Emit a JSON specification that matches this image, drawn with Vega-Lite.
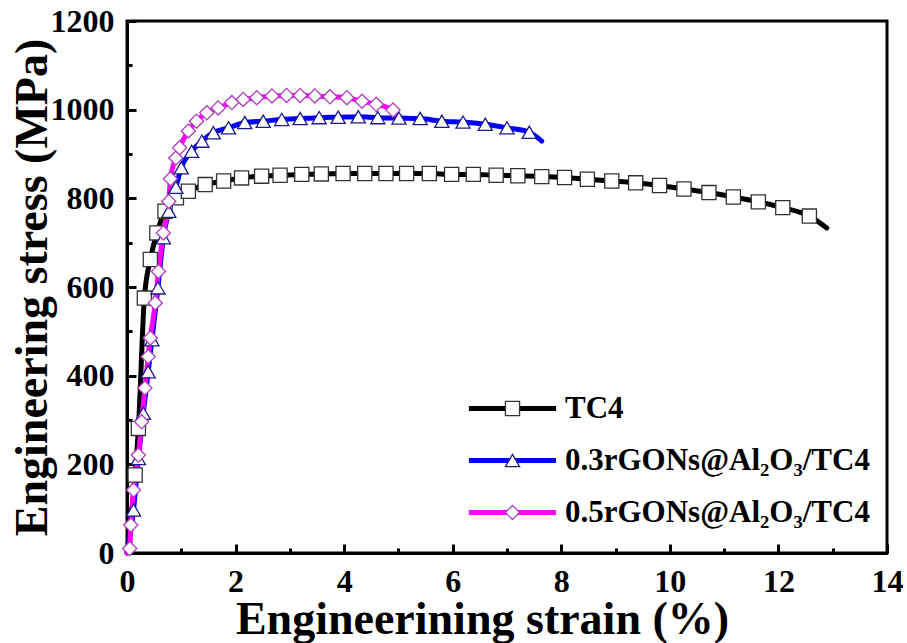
{
  "$schema": "https://vega.github.io/schema/vega-lite/v6.json",
  "width": 760,
  "height": 532,
  "autosize": {"type": "none"},
  "padding": {"left": 127, "top": 21, "right": 20, "bottom": 90},
  "background": "white",
  "config": {
    "view": {"stroke": "black", "strokeWidth": 3},
    "font": "Liberation Serif",
    "axis": {
      "grid": false,
      "domainColor": "black",
      "domainWidth": 3,
      "tickColor": "black",
      "tickWidth": 3,
      "labelFont": "Liberation Serif",
      "labelFontWeight": "bold",
      "labelFontSize": 32,
      "labelColor": "black",
      "titleFont": "Liberation Serif",
      "titleFontWeight": "bold",
      "titleColor": "black"
    }
  },
  "data": {
    "values": [
      {"sample": "TC4", "strain": 0, "stress": 0},
      {"sample": "TC4", "strain": 0.15, "stress": 176},
      {"sample": "TC4", "strain": 0.21, "stress": 281},
      {"sample": "TC4", "strain": 0.32, "stress": 575},
      {"sample": "TC4", "strain": 0.43, "stress": 662},
      {"sample": "TC4", "strain": 0.55, "stress": 722},
      {"sample": "TC4", "strain": 0.70, "stress": 771},
      {"sample": "TC4", "strain": 0.91, "stress": 801},
      {"sample": "TC4", "strain": 1.13, "stress": 816},
      {"sample": "TC4", "strain": 1.44, "stress": 831},
      {"sample": "TC4", "strain": 1.78, "stress": 839},
      {"sample": "TC4", "strain": 2.11, "stress": 846},
      {"sample": "TC4", "strain": 2.48, "stress": 850},
      {"sample": "TC4", "strain": 2.82, "stress": 852},
      {"sample": "TC4", "strain": 3.22, "stress": 854},
      {"sample": "TC4", "strain": 3.58, "stress": 855},
      {"sample": "TC4", "strain": 3.98, "stress": 856},
      {"sample": "TC4", "strain": 4.38, "stress": 856},
      {"sample": "TC4", "strain": 4.77, "stress": 856},
      {"sample": "TC4", "strain": 5.15, "stress": 856},
      {"sample": "TC4", "strain": 5.57, "stress": 856},
      {"sample": "TC4", "strain": 5.98, "stress": 854},
      {"sample": "TC4", "strain": 6.38, "stress": 854},
      {"sample": "TC4", "strain": 6.80, "stress": 852},
      {"sample": "TC4", "strain": 7.20, "stress": 851},
      {"sample": "TC4", "strain": 7.64, "stress": 849},
      {"sample": "TC4", "strain": 8.06, "stress": 847},
      {"sample": "TC4", "strain": 8.48, "stress": 843},
      {"sample": "TC4", "strain": 8.93, "stress": 839},
      {"sample": "TC4", "strain": 9.37, "stress": 835},
      {"sample": "TC4", "strain": 9.81, "stress": 829},
      {"sample": "TC4", "strain": 10.26, "stress": 821},
      {"sample": "TC4", "strain": 10.72, "stress": 813},
      {"sample": "TC4", "strain": 11.17, "stress": 803},
      {"sample": "TC4", "strain": 11.63, "stress": 792},
      {"sample": "TC4", "strain": 12.08, "stress": 779},
      {"sample": "TC4", "strain": 12.57, "stress": 760},
      {"sample": "TC4", "strain": 12.89, "stress": 733},

      {"sample": "0.3rGONs@Al₂O₃/TC4", "strain": 0, "stress": 0},
      {"sample": "0.3rGONs@Al₂O₃/TC4", "strain": 0.12, "stress": 97},
      {"sample": "0.3rGONs@Al₂O₃/TC4", "strain": 0.21, "stress": 213},
      {"sample": "0.3rGONs@Al₂O₃/TC4", "strain": 0.30, "stress": 315},
      {"sample": "0.3rGONs@Al₂O₃/TC4", "strain": 0.39, "stress": 409},
      {"sample": "0.3rGONs@Al₂O₃/TC4", "strain": 0.46, "stress": 481},
      {"sample": "0.3rGONs@Al₂O₃/TC4", "strain": 0.57, "stress": 598},
      {"sample": "0.3rGONs@Al₂O₃/TC4", "strain": 0.67, "stress": 711},
      {"sample": "0.3rGONs@Al₂O₃/TC4", "strain": 0.77, "stress": 771},
      {"sample": "0.3rGONs@Al₂O₃/TC4", "strain": 0.90, "stress": 825},
      {"sample": "0.3rGONs@Al₂O₃/TC4", "strain": 1.00, "stress": 869},
      {"sample": "0.3rGONs@Al₂O₃/TC4", "strain": 1.19, "stress": 906},
      {"sample": "0.3rGONs@Al₂O₃/TC4", "strain": 1.38, "stress": 929},
      {"sample": "0.3rGONs@Al₂O₃/TC4", "strain": 1.59, "stress": 948},
      {"sample": "0.3rGONs@Al₂O₃/TC4", "strain": 1.87, "stress": 959},
      {"sample": "0.3rGONs@Al₂O₃/TC4", "strain": 2.17, "stress": 971},
      {"sample": "0.3rGONs@Al₂O₃/TC4", "strain": 2.51, "stress": 974},
      {"sample": "0.3rGONs@Al₂O₃/TC4", "strain": 2.85, "stress": 978},
      {"sample": "0.3rGONs@Al₂O₃/TC4", "strain": 3.19, "stress": 980},
      {"sample": "0.3rGONs@Al₂O₃/TC4", "strain": 3.54, "stress": 982},
      {"sample": "0.3rGONs@Al₂O₃/TC4", "strain": 3.89, "stress": 983},
      {"sample": "0.3rGONs@Al₂O₃/TC4", "strain": 4.26, "stress": 984},
      {"sample": "0.3rGONs@Al₂O₃/TC4", "strain": 4.62, "stress": 982},
      {"sample": "0.3rGONs@Al₂O₃/TC4", "strain": 5.01, "stress": 981},
      {"sample": "0.3rGONs@Al₂O₃/TC4", "strain": 5.40, "stress": 980},
      {"sample": "0.3rGONs@Al₂O₃/TC4", "strain": 5.80, "stress": 974},
      {"sample": "0.3rGONs@Al₂O₃/TC4", "strain": 6.19, "stress": 972},
      {"sample": "0.3rGONs@Al₂O₃/TC4", "strain": 6.60, "stress": 967},
      {"sample": "0.3rGONs@Al₂O₃/TC4", "strain": 7.00, "stress": 959},
      {"sample": "0.3rGONs@Al₂O₃/TC4", "strain": 7.41, "stress": 949},
      {"sample": "0.3rGONs@Al₂O₃/TC4", "strain": 7.64, "stress": 929},

      {"sample": "0.5rGONs@Al₂O₃/TC4", "strain": 0, "stress": 0},
      {"sample": "0.5rGONs@Al₂O₃/TC4", "strain": 0.05, "stress": 10},
      {"sample": "0.5rGONs@Al₂O₃/TC4", "strain": 0.07, "stress": 63},
      {"sample": "0.5rGONs@Al₂O₃/TC4", "strain": 0.12, "stress": 142},
      {"sample": "0.5rGONs@Al₂O₃/TC4", "strain": 0.21, "stress": 221},
      {"sample": "0.5rGONs@Al₂O₃/TC4", "strain": 0.27, "stress": 296},
      {"sample": "0.5rGONs@Al₂O₃/TC4", "strain": 0.33, "stress": 372},
      {"sample": "0.5rGONs@Al₂O₃/TC4", "strain": 0.39, "stress": 443},
      {"sample": "0.5rGONs@Al₂O₃/TC4", "strain": 0.43, "stress": 485},
      {"sample": "0.5rGONs@Al₂O₃/TC4", "strain": 0.52, "stress": 564},
      {"sample": "0.5rGONs@Al₂O₃/TC4", "strain": 0.58, "stress": 635},
      {"sample": "0.5rGONs@Al₂O₃/TC4", "strain": 0.67, "stress": 722},
      {"sample": "0.5rGONs@Al₂O₃/TC4", "strain": 0.77, "stress": 793},
      {"sample": "0.5rGONs@Al₂O₃/TC4", "strain": 0.80, "stress": 844},
      {"sample": "0.5rGONs@Al₂O₃/TC4", "strain": 0.90, "stress": 891},
      {"sample": "0.5rGONs@Al₂O₃/TC4", "strain": 0.97, "stress": 914},
      {"sample": "0.5rGONs@Al₂O₃/TC4", "strain": 1.13, "stress": 952},
      {"sample": "0.5rGONs@Al₂O₃/TC4", "strain": 1.28, "stress": 974},
      {"sample": "0.5rGONs@Al₂O₃/TC4", "strain": 1.47, "stress": 993},
      {"sample": "0.5rGONs@Al₂O₃/TC4", "strain": 1.68, "stress": 1004},
      {"sample": "0.5rGONs@Al₂O₃/TC4", "strain": 1.93, "stress": 1016},
      {"sample": "0.5rGONs@Al₂O₃/TC4", "strain": 2.14, "stress": 1023},
      {"sample": "0.5rGONs@Al₂O₃/TC4", "strain": 2.39, "stress": 1027},
      {"sample": "0.5rGONs@Al₂O₃/TC4", "strain": 2.67, "stress": 1031},
      {"sample": "0.5rGONs@Al₂O₃/TC4", "strain": 2.94, "stress": 1032},
      {"sample": "0.5rGONs@Al₂O₃/TC4", "strain": 3.19, "stress": 1032},
      {"sample": "0.5rGONs@Al₂O₃/TC4", "strain": 3.46, "stress": 1031},
      {"sample": "0.5rGONs@Al₂O₃/TC4", "strain": 3.74, "stress": 1029},
      {"sample": "0.5rGONs@Al₂O₃/TC4", "strain": 4.05, "stress": 1027},
      {"sample": "0.5rGONs@Al₂O₃/TC4", "strain": 4.33, "stress": 1019},
      {"sample": "0.5rGONs@Al₂O₃/TC4", "strain": 4.59, "stress": 1012},
      {"sample": "0.5rGONs@Al₂O₃/TC4", "strain": 4.90, "stress": 999},
      {"sample": "0.5rGONs@Al₂O₃/TC4", "strain": 5.00, "stress": 978}
    ]
  },
  "encoding": {
    "x": {
      "field": "strain",
      "type": "quantitative",
      "scale": {"domain": [0, 14], "nice": false, "zero": false},
      "axis": {
        "title": "Engineerining strain (%)",
        "titleFontSize": 46,
        "titlePadding": -4,
        "titleX": 355,
        "values": [0, 1, 2, 3, 4, 5, 6, 7, 8, 9, 10, 11, 12, 13, 14],
        "labelExpr": "datum.value % 2 === 0 ? datum.label : ''",
        "tickSize": {"condition": {"test": "datum.value % 2 === 0", "value": -9}, "value": -5},
        "labelPadding": 22,
        "labelFlush": false,
        "labelOverlap": false
      }
    },
    "y": {
      "field": "stress",
      "type": "quantitative",
      "scale": {"domain": [0, 1200], "nice": false},
      "axis": {
        "title": "Engineering stress (MPa)",
        "titleFontSize": 46,
        "titlePadding": -6,
        "values": [0, 100, 200, 300, 400, 500, 600, 700, 800, 900, 1000, 1100, 1200],
        "labelExpr": "datum.value % 200 === 0 ? datum.label : ''",
        "format": "d",
        "tickSize": {"condition": {"test": "datum.value % 200 === 0", "value": -9}, "value": -5},
        "labelPadding": 22,
        "labelFlush": false,
        "labelOverlap": false
      }
    }
  },
  "layer": [
    {
      "mark": {"type": "line", "strokeWidth": 5, "interpolate": "monotone", "strokeCap": "round", "strokeJoin": "round"},
      "encoding": {
        "color": {
          "field": "sample",
          "type": "nominal",
          "sort": ["TC4", "0.3rGONs@Al₂O₃/TC4", "0.5rGONs@Al₂O₃/TC4"],
          "scale": {"range": ["#000000", "#0000ff", "#ff00ff"]},
          "legend": {
            "orient": "none",
            "legendX": 370,
            "legendY": 372,
            "title": null,
            "padding": 0,
            "symbolType": "M-10,0H10",
            "symbolSize": 76,
            "symbolStrokeWidth": 5,
            "labelFont": "Liberation Serif",
            "labelFontWeight": "bold",
            "labelFontSize": 31,
            "labelColor": "black",
            "labelOffset": 37,
            "labelLimit": 500,
            "rowPadding": 20
          }
        }
      }
    },
    {
      "transform": [
        {"window": [{"op": "row_number", "as": "idx"}, {"op": "count", "as": "n"}, {"op": "first_value", "field": "sample", "as": "series"}], "groupby": ["sample"], "frame": [null, null]},
        {"filter": "datum.idx > 1 && datum.idx < datum.n"}
      ],
      "mark": {"type": "point", "filled": false, "fill": "white", "fillOpacity": 1, "strokeWidth": 1.3, "opacity": 1, "size": 200},
      "encoding": {
        "shape": {
          "field": "series",
          "type": "nominal",
          "scale": {"domain": ["TC4", "0.3rGONs@Al₂O₃/TC4", "0.5rGONs@Al₂O₃/TC4"], "range": ["square", "triangle-up", "diamond"]},
          "legend": {
            "orient": "none",
            "legendX": 370,
            "legendY": 372,
            "title": null,
            "padding": 0,
            "symbolSize": 200,
            "symbolFillColor": "white",
            "symbolStrokeWidth": 1.3,
            "labelFont": "Liberation Serif",
            "labelFontWeight": "bold",
            "labelFontSize": 31,
            "labelOpacity": 0,
            "labelOffset": 37,
            "labelLimit": 500,
            "rowPadding": 20
          }
        },
        "stroke": {
          "field": "series",
          "type": "nominal",
          "scale": {"domain": ["TC4", "0.3rGONs@Al₂O₃/TC4", "0.5rGONs@Al₂O₃/TC4"], "range": ["#333333", "#1c1c8a", "#b23cc0"]},
          "legend": {
            "orient": "none",
            "legendX": 370,
            "legendY": 372,
            "title": null,
            "padding": 0,
            "symbolSize": 200,
            "symbolFillColor": "white",
            "symbolStrokeWidth": 1.3,
            "labelFont": "Liberation Serif",
            "labelFontWeight": "bold",
            "labelFontSize": 31,
            "labelOpacity": 0,
            "labelOffset": 37,
            "labelLimit": 500,
            "rowPadding": 20
          }
        }
      }
    }
  ]
}
